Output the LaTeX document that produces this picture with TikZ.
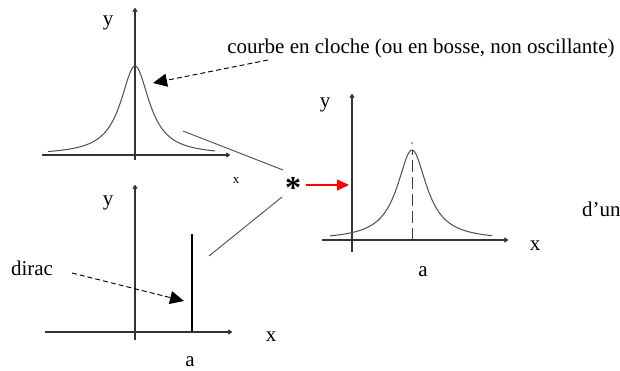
\documentclass[tikz,border=0pt]{standalone}
\usepackage{fontspec}
\setmainfont{Liberation Serif}
\usetikzlibrary{arrows.meta}
\begin{document}
\begin{tikzpicture}[x=1pt,y=-1pt,
  axis/.style={draw=black!80,line width=1.1pt,-{To[length=4pt,width=5pt]}},
  curve/.style={draw=black!70,line width=1pt},
  lbl/.style={font=\fontsize{21}{23}\selectfont,inner sep=0pt},
  smalllbl/.style={font=\fontsize{13}{15}\selectfont,inner sep=0pt},
  pointer/.style={draw=black,line width=0.9pt,dash pattern=on 5pt off 3pt,-{Triangle[length=14pt,width=13pt]}},
  link/.style={draw=black!70,line width=0.9pt}]
\useasboundingbox (0,0) rectangle (620,371);
\clip (0,0) rectangle (620,371);
% top graph
\coordinate (t0) at (135,160);
\coordinate (t1) at (135,8);
\coordinate (tx0) at (42,155);
\coordinate (tx1) at (230,155);
\draw[axis] (t0) -- (t1);
\draw[axis] (tx0) -- (tx1);
\draw[curve] plot[domain=-87:80,samples=120] ({135+\x},{155-89/(1+(\x/17.5)^2)});
\node[lbl] (ty) at (108,23) {y};
\node[smalllbl] (tx) at (236,181) {x};
% bottom graph
\coordinate (b0) at (135,340);
\coordinate (b1) at (135,185);
\coordinate (bx0) at (45,332);
\coordinate (bx1) at (232,332);
\draw[axis] (b0) -- (b1);
\draw[axis] (bx0) -- (bx1);
\coordinate (d0) at (192,332);
\coordinate (d1) at (192,234);
\draw[line width=2.6pt] (d0) -- (d1);
\node[lbl] (by) at (108,203) {y};
\node[lbl] (bx) at (271,337) {x};
\node[lbl] (ba) at (190,362) {a};
\node[lbl] (dirac) at (32,268) {dirac};
% right graph
\coordinate (r0) at (352,252);
\coordinate (r1) at (352,94);
\coordinate (rx0) at (322,240);
\coordinate (rx1) at (508,240);
\draw[axis] (r0) -- (r1);
\draw[axis] (rx0) -- (rx1);
\draw[curve] plot[domain=-82:80,samples=120] ({412+\x},{240-90/(1+(\x/18)^2)});
\coordinate (rp) at (412,150);
\coordinate (rb) at (412,240);
\draw[black!75,line width=1pt,dash pattern=on 12pt off 5pt] (rb) -- (rp);
\fill[black!70] (412,143) circle (0.8pt);
\node[lbl] (ry) at (325,105) {y};
\node[lbl] (rx) at (535,246) {x};
\node[lbl] (ra) at (423,272) {a};
\node[lbl,anchor=west] (dun) at (582,209) {d’un};
% convolution star
\node[font=\fontsize{32}{32}\selectfont\bfseries,inner sep=0pt] (star) at (293,188) {*};
\coordinate (l1a) at (183,131);
\coordinate (l1b) at (283,170);
\coordinate (l2a) at (282,197);
\coordinate (l2b) at (209,256);
\draw[link] (l1a) -- (l1b);
\draw[link] (l2a) -- (l2b);
\coordinate (ra0) at (306,185);
\coordinate (ra1) at (349,185);
\draw[red,line width=1.2pt,-{Triangle[length=12pt,width=11pt]}] (ra0) -- (ra1);
% labels with pointers
\node[lbl] (courbe) at (421,48) {courbe en cloche (ou en bosse, non oscillante)};
\coordinate (c0) at (268,60);
\coordinate (c1) at (153,83);
\draw[pointer] (c0) -- (c1);
\coordinate (p0) at (72,273);
\coordinate (p1) at (184,301);
\draw[pointer] (p0) -- (p1);
\end{tikzpicture}
\end{document}
